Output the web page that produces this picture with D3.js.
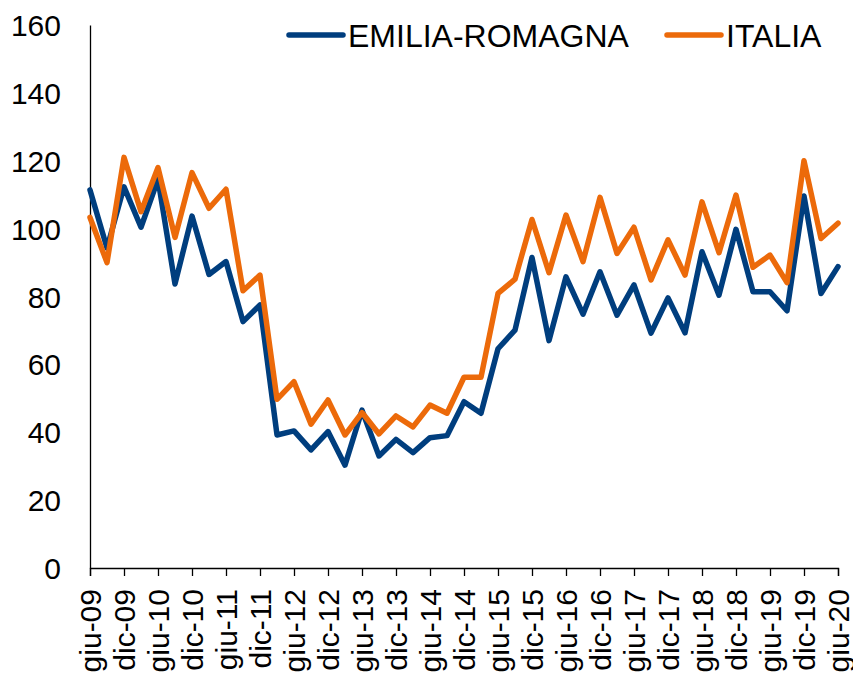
<!DOCTYPE html>
<html>
<head>
<meta charset="utf-8">
<script src="https://cdn.jsdelivr.net/npm/d3@7"></script>
<style>
  body { margin: 0; background: #fff; }
  text { font-family: "Liberation Sans", Arial, sans-serif; fill: #000; }
</style>
</head>
<body>
<div id="chart"></div>
<script>
// quarterly periods, giu-09 .. giu-20
var periods = ["giu-09","set-09","dic-09","mar-10","giu-10","set-10","dic-10","mar-11","giu-11","set-11",
  "dic-11","mar-12","giu-12","set-12","dic-12","mar-13","giu-13","set-13","dic-13","mar-14",
  "giu-14","set-14","dic-14","mar-15","giu-15","set-15","dic-15","mar-16","giu-16","set-16",
  "dic-16","mar-17","giu-17","set-17","dic-17","mar-18","giu-18","set-18","dic-18","mar-19",
  "giu-19","set-19","dic-19","mar-20","giu-20"];

var emilia = [111.4, 94.3, 112.3, 100.4, 114.5, 83.7, 103.7, 86.5, 90.3, 72.6,
  77.5, 39.2, 40.4, 34.8, 40.2, 30.3, 46.5, 33.0, 37.9, 34.0,
  38.4, 39.0, 49.0, 45.6, 64.6, 70.1, 91.5, 67.0, 85.8, 74.8,
  87.3, 74.5, 83.4, 69.2, 79.6, 69.3, 93.2, 80.4, 99.8, 81.4,
  81.4, 75.8, 109.6, 80.9, 88.8];

var italia = [103.3, 90.0, 121.0, 105.0, 118.0, 97.4, 116.5, 106.0, 111.6, 81.7,
  86.3, 49.7, 54.9, 42.4, 49.5, 39.2, 45.8, 39.5, 44.8, 41.6,
  48.0, 45.6, 56.2, 56.2, 80.9, 85.1, 102.7, 87.0, 104.0, 90.3,
  109.2, 92.7, 100.4, 84.9, 96.7, 86.3, 107.9, 92.9, 109.9, 88.6,
  92.2, 84.1, 120.0, 97.1, 101.6];

var yTicks = [0, 20, 40, 60, 80, 100, 120, 140, 160];
var seriesNames = ["EMILIA-ROMAGNA", "ITALIA"];
var colors = ["#003e7e", "#ec6a0a"];

var width = 853, height = 673;
var margin = {top: 25, right: 15, bottom: 105, left: 90};

var svg = d3.select("#chart").append("svg")
    .attr("width", width)
    .attr("height", height);

var x = d3.scalePoint()
    .domain(periods)
    .range([margin.left, width - margin.right]);

var y = d3.scaleLinear()
    .domain([0, 160])
    .range([height - margin.bottom, margin.top]);

// y axis, no tick marks
var yAxis = svg.append("g")
    .attr("transform", "translate(" + margin.left + ",0)")
    .call(d3.axisLeft(y).tickValues(yTicks).tickSize(0).tickPadding(29));
yAxis.select(".domain").attr("stroke", "#000").attr("stroke-width", 1.3);
yAxis.selectAll("text").style("font-size", "30px").attr("dy", "0.35em");

// x axis, labels every 6 months
var labelled = periods.filter(function(d, i) { return i % 2 === 0; });
var xAxis = svg.append("g")
    .attr("transform", "translate(0," + y(0) + ")")
    .call(d3.axisBottom(x).tickValues(labelled).tickSizeOuter(0).tickSize(8).tickPadding(0));
xAxis.select(".domain").attr("stroke", "#000").attr("stroke-width", 1.3);
xAxis.selectAll(".tick line").attr("stroke", "#000").attr("stroke-width", 1.3);
xAxis.selectAll("text")
    .style("font-size", "30px")
    .attr("transform", "rotate(-90)")
    .attr("x", -21)
    .attr("y", 0)
    .attr("dy", "0.35em")
    .style("text-anchor", "end");

var line = d3.line()
    .x(function(d, i) { return x(periods[i]); })
    .y(function(d) { return y(d); });

[emilia, italia].forEach(function(s, k) {
  svg.append("path")
    .datum(s)
    .attr("fill", "none")
    .attr("stroke", colors[k])
    .attr("stroke-width", 5.5)
    .attr("stroke-linejoin", "round")
    .attr("stroke-linecap", "round")
    .attr("d", line);
});

// legend
var legendX = [289, 667];
seriesNames.forEach(function(name, k) {
  var g = svg.append("g").attr("transform", "translate(" + legendX[k] + ",35)");
  g.append("line")
    .attr("x1", 0).attr("x2", 54)
    .attr("stroke", colors[k])
    .attr("stroke-width", 5.5)
    .attr("stroke-linecap", "round");
  g.append("text")
    .attr("x", 59)
    .attr("y", 12)
    .style("font-size", "32px")
    .text(name);
});
</script>
</body>
</html>
